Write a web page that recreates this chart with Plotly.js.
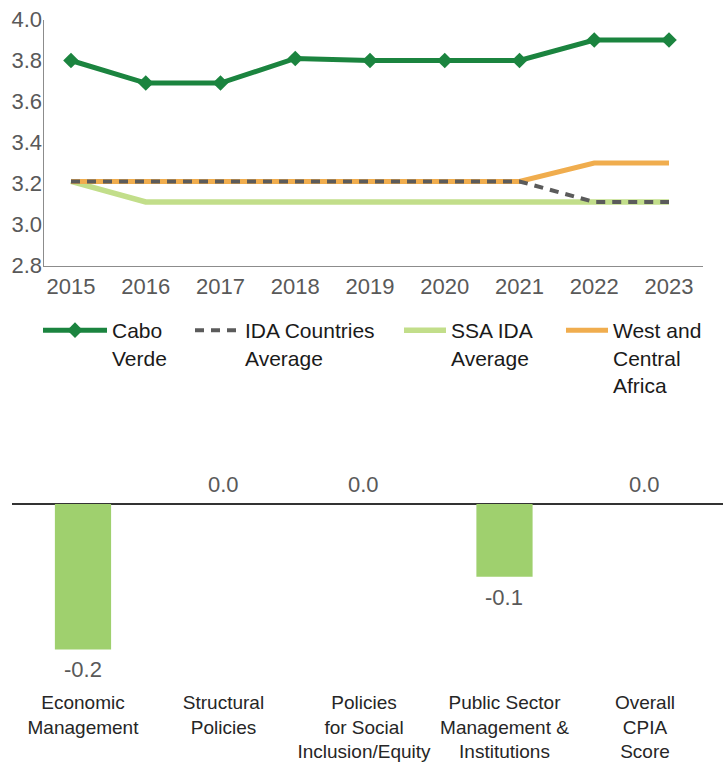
<!DOCTYPE html>
<html>
<head>
<meta charset="utf-8">
<script src="https://cdn.plot.ly/plotly-3.0.1.min.js"></script>
<style>html,body{margin:0;padding:0;background:#fff;}#chart{width:723px;height:763px;}</style>
</head>
<body>
<div id="chart"></div>
<script>
// ---- Data: line chart (CPIA scores) ----
const years = [2015, 2016, 2017, 2018, 2019, 2020, 2021, 2022, 2023];
const caboVerde = [3.80, 3.69, 3.69, 3.81, 3.80, 3.80, 3.80, 3.90, 3.90];
const idaAverage = [3.21, 3.21, 3.21, 3.21, 3.21, 3.21, 3.21, 3.11, 3.11];
const ssaIdaAverage = [3.21, 3.11, 3.11, 3.11, 3.11, 3.11, 3.11, 3.11, 3.11];
const westCentralAfrica = [3.21, 3.21, 3.21, 3.21, 3.21, 3.21, 3.21, 3.30, 3.30];
const yTicks = [2.8, 3.0, 3.2, 3.4, 3.6, 3.8, 4.0];

// ---- Data: bar chart (change in cluster scores) ----
const clusters = ["Economic<br>Management", "Structural<br>Policies", "Policies<br>for Social<br>Inclusion/Equity", "Public Sector<br>Management &<br>Institutions", "Overall<br>CPIA<br>Score"];
const changes = [-0.2, 0.0, 0.0, -0.1, 0.0];

const W = 723, H = 763;
const px = v => v / W;
const py = v => 1 - v / H;
const FONT = "Liberation Sans, Arial, sans-serif";
const LEGFONT = {family: FONT, size: 21, color: "#1a1a1a"};

const traces = [
  {x: years, y: ssaIdaAverage, name: "SSA IDA<br>Average", type: "scatter", mode: "lines",
   line: {color: "#c2de8a", width: 5.5}, legend: "legend3", xaxis: "x", yaxis: "y"},
  {x: years, y: westCentralAfrica, name: "West and<br>Central<br>Africa", type: "scatter", mode: "lines",
   line: {color: "#f0ad4e", width: 5}, legend: "legend4", xaxis: "x", yaxis: "y"},
  {x: years, y: idaAverage, name: "IDA Countries<br>Average", type: "scatter", mode: "lines",
   line: {color: "#5b5b5b", width: 4, dash: "9px,7px"}, legend: "legend2", xaxis: "x", yaxis: "y"},
  {x: years, y: caboVerde, name: "Cabo<br>Verde", type: "scatter", mode: "lines+markers",
   line: {color: "#1b843f", width: 5}, marker: {symbol: "diamond", size: 12, color: "#1b843f"},
   legend: "legend", xaxis: "x", yaxis: "y"},
  {x: clusters, y: changes, type: "bar", marker: {color: "#9fd06e"}, width: 0.4,
   showlegend: false, xaxis: "x2", yaxis: "y2", hoverinfo: "x+y"}
];

const annotations = changes.map((v, i) => ({
  x: clusters[i], y: v, xref: "x2", yref: "y2",
  text: v.toFixed(1), showarrow: false,
  yanchor: v < 0 ? "top" : "bottom",
  yshift: v < 0 ? -6 : 5,
  font: {family: FONT, size: 22, color: "#595959"}
}));

function leg(xPx, w) {
  return {orientation: "v", x: px(xPx), y: py(310), xanchor: "left", yanchor: "top",
    font: LEGFONT, valign: "top", itemwidth: w, bgcolor: "rgba(0,0,0,0)"};
}

const layout = {
  width: W, height: H,
  margin: {l: 0, r: 0, t: 0, b: 0},
  paper_bgcolor: "#fff", plot_bgcolor: "#fff",
  font: {family: FONT},
  showlegend: true,
  legend: leg(38, 64),
  legend2: leg(190, 45),
  legend3: leg(399, 42),
  legend4: leg(561, 42),
  xaxis: {
    domain: [px(44), px(703)], range: [2014.639, 2023.455],
    tickvals: years, ticktext: years.map(String),
    showline: true, linecolor: "#8c8c8c", linewidth: 1.5,
    showgrid: false, zeroline: false,
    ticks: "outside", ticklen: 1, tickcolor: "rgba(0,0,0,0)",
    tickfont: {family: FONT, size: 22, color: "#595959"}
  },
  yaxis: {
    domain: [py(265.5), py(19.5)], range: [2.8, 4.0],
    tickvals: yTicks, ticktext: yTicks.map(v => v.toFixed(1)),
    showline: true, linecolor: "#8c8c8c", linewidth: 1.5,
    showgrid: false, zeroline: false, ticks: "",
    ticklabelstandoff: -4,
    tickfont: {family: FONT, size: 22, color: "#595959"}
  },
  xaxis2: {
    domain: [px(12), 1], range: [-0.5053, 4.5552],
    showline: false, showgrid: false, zeroline: false,
    tickangle: 0,
    ticks: "outside", ticklen: 5, tickcolor: "rgba(0,0,0,0)",
    tickfont: {family: FONT, size: 19, color: "#262626"},
    anchor: "y2"
  },
  yaxis2: {
    domain: [py(680), py(470)], range: [-0.24209, 0.04677],
    showline: false, showgrid: false, showticklabels: false,
    zeroline: true, zerolinecolor: "#333333", zerolinewidth: 1.5,
    anchor: "x2"
  },
  annotations: annotations
};

Plotly.newPlot("chart", traces, layout, {displayModeBar: false, staticPlot: true});
</script>
</body>
</html>
